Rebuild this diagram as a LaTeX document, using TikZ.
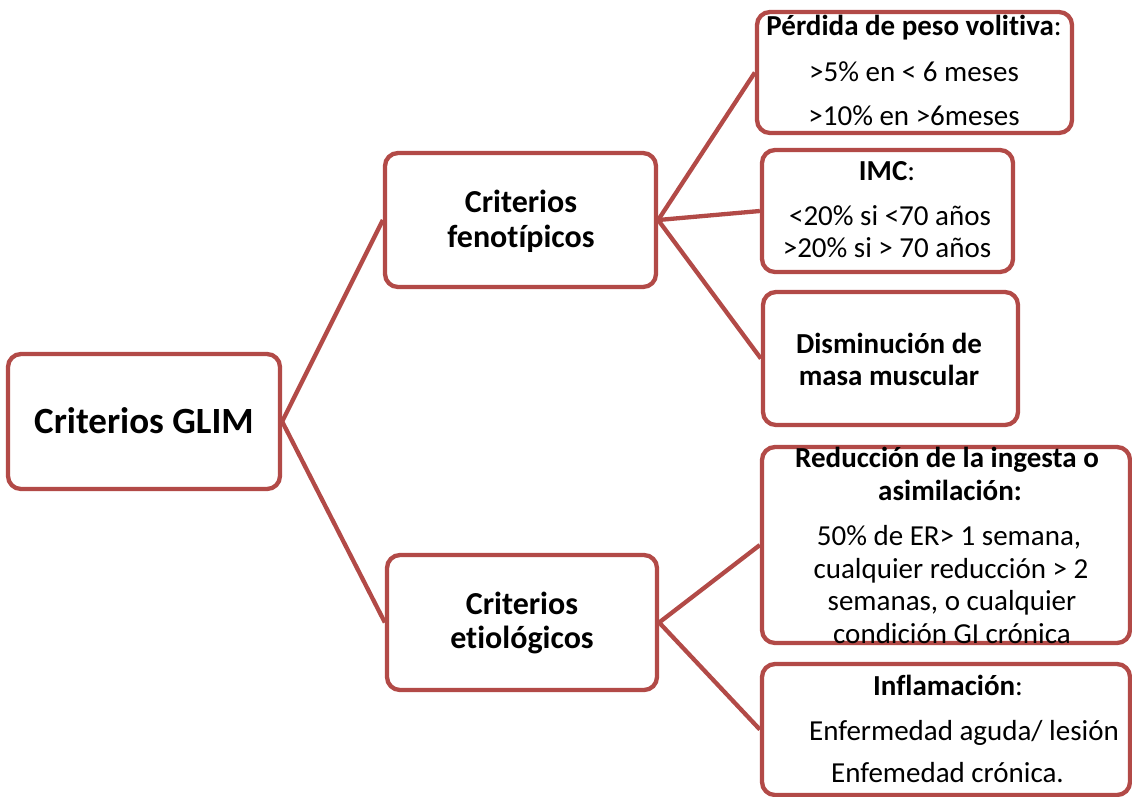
\documentclass[tikz,border=0pt]{standalone}
\usepackage{fontspec}
\setmainfont{Carlito}[Ligatures={NoCommon}]
\definecolor{boxred}{RGB}{178,74,71}
\begin{document}
\begin{tikzpicture}[x=1pt,y=-1pt,
  box/.style={draw=boxred, line width=4.3pt, rounded corners=13pt, fill=white, inner sep=0pt},
  conn/.style={draw=boxred, line width=4.3pt},
  txt/.style={anchor=base, inner sep=0pt, font=\fontsize{29}{32}\selectfont},
  btxt/.style={txt, font=\fontsize{29}{32}\selectfont\bfseries},
  ctxt/.style={txt, font=\fontsize{32}{35}\selectfont\bfseries},
  gtxt/.style={txt, font=\fontsize{37}{40}\selectfont\bfseries}]
\useasboundingbox (0,0) rectangle (1132,796);
% boxes
\node[box, minimum width=272pt, minimum height=135pt] (glim) at (144,421.5) {};
\node[box, minimum width=271pt, minimum height=134pt] (fen) at (520.5,220) {};
\node[box, minimum width=270pt, minimum height=135pt] (eti) at (522,622.5) {};
\node[box, minimum width=315pt, minimum height=121pt] (perd) at (914.5,72.5) {};
\node[box, minimum width=251pt, minimum height=122pt] (imc) at (887.5,211) {};
\node[box, minimum width=255pt, minimum height=133pt] (dism) at (890.5,358.5) {};
\node[box, minimum width=368pt, minimum height=196pt] (red) at (946,545) {};
\node[box, minimum width=368pt, minimum height=131pt] (infl) at (946,729.5) {};
% connectors
\draw[conn] (glim.east) -- (fen.west);
\draw[conn] (glim.east) -- (eti.west);
\draw[conn] (fen.east) -- (perd.west);
\draw[conn] (fen.east) -- (imc.west);
\draw[conn] (fen.east) -- (dism.west);
\draw[conn] (eti.east) -- (red.west);
\draw[conn] (eti.east) -- (infl.west);
% texts
\node[gtxt] (tglim) at (144,433) {Criterios GLIM};
\node[ctxt] (tfen1) at (521,212) {Criterios};
\node[ctxt] (tfen2) at (521,247) {fenotípicos};
\node[ctxt] (teti1) at (522,614) {Criterios};
\node[ctxt] (teti2) at (522,648) {etiológicos};
\node[txt] (tperd1) at (914,35) {\textbf{Pérdida de peso volitiva}:};
\node[txt] (tperd2) at (914,81) {>5\% en < 6 meses};
\node[txt] (tperd3) at (914,125) {>10\% en >6meses};
\node[txt] (timc1) at (887,180) {\textbf{IMC}:};
\node[txt] (timc2) at (890,225) {<20\% si <70 años};
\node[txt] (timc3) at (887,257) {>20\% si > 70 años};
\node[btxt] (tdism1) at (889,353) {Disminución de};
\node[btxt] (tdism2) at (889,385) {masa muscular};
\node[btxt] (tred1) at (947,467) {Reducción de la ingesta o};
\node[btxt] (tred2) at (950,500) {asimilación:};
\node[txt] (tred3) at (949,545) {50\% de ER> 1 semana,};
\node[txt] (tred4) at (951,578) {cualquier reducción > 2};
\node[txt] (tred5) at (952,610) {semanas, o cualquier};
\node[txt] (tred6) at (952,643) {condición GI crónica};
\node[txt] (tinfl1) at (948,695) {\textbf{Inflamación}:};
\node[txt] (tinfl2) at (964,740) {Enfermedad aguda/ lesión};
\node[txt] (tinfl3) at (947.5,782) {Enfemedad crónica.};
\end{tikzpicture}
\end{document}
